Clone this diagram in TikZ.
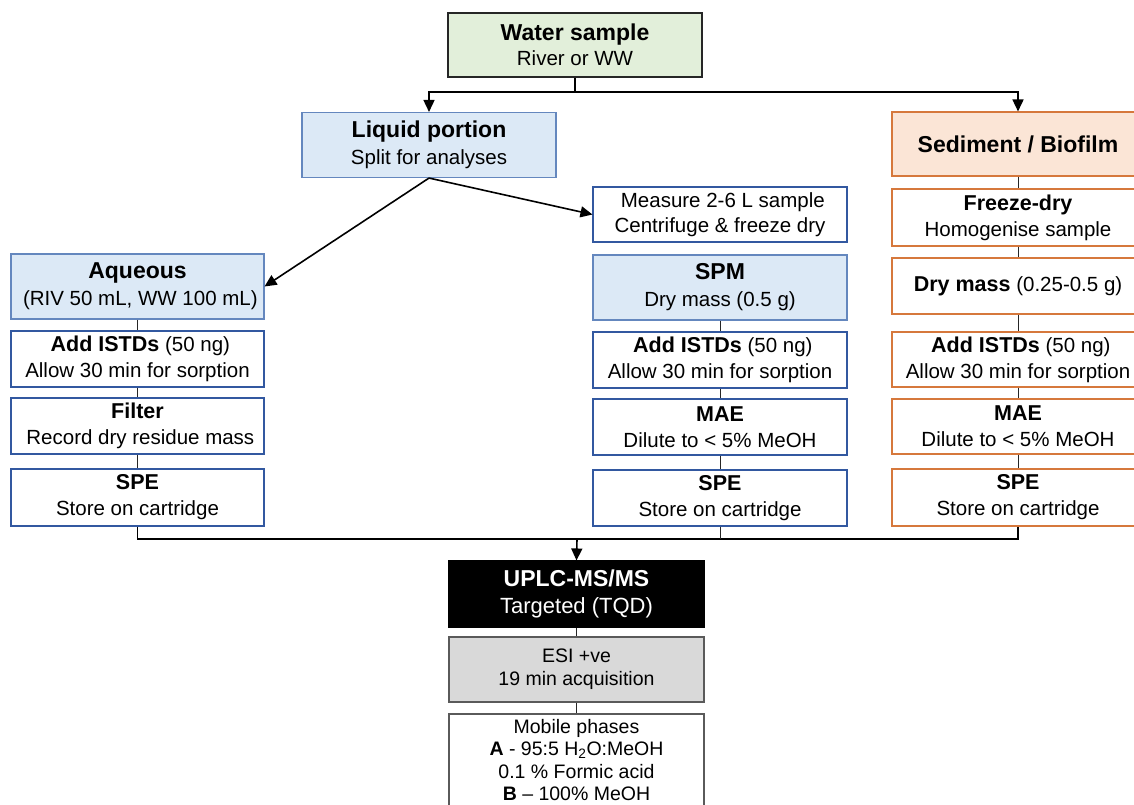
\documentclass[tikz,border=0pt]{standalone}
\usepackage{fontspec}
\setmainfont{Liberation Sans}
\usetikzlibrary{arrows.meta}
\definecolor{greenfill}{RGB}{226,239,218}
\definecolor{bluefill}{RGB}{220,233,246}
\definecolor{blueline}{RGB}{100,135,190}
\definecolor{bluedark}{RGB}{50,88,160}
\definecolor{orangefill}{RGB}{251,229,214}
\definecolor{orangeline}{RGB}{214,120,60}
\definecolor{grayfill}{RGB}{217,217,217}
\definecolor{grayline}{RGB}{90,90,90}
\newcommand{\hbf}[1]{{\fontsize{23}{27}\selectfont\bfseries #1}}
\newcommand{\sbf}[1]{{\fontsize{21.5}{26}\selectfont\bfseries #1}}
\begin{document}
\begin{tikzpicture}[x=1pt,y=-1pt,
  box/.style={draw, line width=1.1pt, inner sep=0pt, align=center, text=black},
  hdr/.style={box, draw=blueline, fill=bluefill, minimum width=254pt, minimum height=65pt, font=\fontsize{20.5}{27}\selectfont},
  stepb/.style={box, draw=bluedark, fill=white, minimum width=254pt, minimum height=56pt, font=\fontsize{20.5}{26}\selectfont},
  ostep/.style={box, draw=orangeline, fill=white, minimum width=252pt, minimum height=56pt, font=\fontsize{20.5}{26}\selectfont},
  conn/.style={draw=black, line width=1.6pt},
  arr/.style={conn, -{Triangle[length=12pt,width=11pt]}},
  stub/.style={draw=black!85, line width=0.8pt}]
\useasboundingbox (0,0) rectangle (1134,804);
\fill[white] (0,0) rectangle (1134,804);

% top
\node[box, draw=black!85, fill=greenfill, minimum width=254pt, minimum height=64pt, font=\fontsize{20.5}{25}\selectfont] (water) at (575,45) {\hbf{Water sample}\\River or WW};
\node[hdr] (liquid) at (429,145) {\hbf{Liquid portion}\\Split for analyses};
\node[box, draw=orangeline, fill=orangefill, minimum width=252pt, minimum height=64pt] (sed) at (1018,144) {\hbf{Sediment / Biofilm}};

% middle column
\node[stepb, minimum height=55pt, font=\fontsize{20.5}{25}\selectfont] (measure) at (720,214.5) {\ Measure 2-6 L sample\\Centrifuge \& freeze dry};
\node[hdr] (spm) at (720,287.5) {\hbf{SPM}\\Dry mass (0.5 g)};
\node[stepb] (add2) at (720,360) {\ \sbf{Add ISTDs} (50 ng)\\Allow 30 min for sorption};
\node[stepb] (mae2) at (720,427) {\sbf{MAE}\\Dilute to < 5\% MeOH};
\node[stepb] (spe2) at (720,498) {\sbf{SPE}\\Store on cartridge};

% left column
\node[hdr, minimum width=253pt] (aq) at (137.5,286.5) {\hbf{Aqueous}\\\ (RIV 50 mL, WW 100 mL)};
\node[stepb, minimum width=253pt] (add1) at (137.5,359) {\ \sbf{Add ISTDs} (50 ng)\\Allow 30 min for sorption};
\node[stepb, minimum width=253pt] (filt) at (137.5,426) {\sbf{Filter}\\\ Record dry residue mass};
\node[stepb, minimum width=253pt, minimum height=57pt] (spe1) at (137.5,497.5) {\sbf{SPE}\\Store on cartridge};

% right column
\node[ostep, minimum height=57pt] (freeze) at (1018,217.5) {\sbf{Freeze-dry}\\Homogenise sample};
\node[ostep] (dry) at (1018,286) {\sbf{Dry mass} (0.25-0.5 g)};
\node[ostep, minimum height=55pt] (add3) at (1018,359.5) {\ \sbf{Add ISTDs} (50 ng)\\Allow 30 min for sorption};
\node[ostep, minimum height=55pt] (mae3) at (1018,426.5) {\sbf{MAE}\\Dilute to < 5\% MeOH};
\node[ostep, minimum height=57pt] (spe3) at (1018,497.5) {\sbf{SPE}\\Store on cartridge};

% bottom
\node[box, draw=black, fill=black, text=white, minimum width=255pt, minimum height=66pt, font=\fontsize{22}{27}\selectfont] (uplc) at (576.5,594) {\hbf{UPLC-MS/MS}\\Targeted (TQD)};
\node[box, draw=grayline, fill=grayfill, minimum width=255pt, minimum height=65pt, font=\fontsize{19.5}{23}\selectfont] (esi) at (576.5,669.5) {ESI +ve\\19 min acquisition};
\node[box, draw=grayline, fill=white, minimum width=255pt, minimum height=92pt, font=\fontsize{19.5}{22.5}\selectfont] (mob) at (576.5,760) {Mobile phases\\\textbf{A} - 95:5 H\textsubscript{2}O:MeOH\\0.1 \% Formic acid\\\textbf{B} -- 100\% MeOH};

% connectors top
\coordinate (j1) at (575,92);
\draw[conn] (water.south) -- (j1);
\draw[arr] (j1) -| (liquid.north);
\draw[arr] (j1) -| (sed.north);
\draw[arr] (liquid.south) -- (aq.east);
\draw[arr] (liquid.south) -- (measure.west);

% stubs
\draw[stub] (aq.south) -- (add1.north);
\draw[stub] (add1.south) -- (filt.north);
\draw[stub] (filt.south) -- (spe1.north);
\draw[stub] (spm.south) -- (add2.north);
\draw[stub] (add2.south) -- (mae2.north);
\draw[stub] (mae2.south) -- (spe2.north);
\draw[stub] (sed.south) -- (freeze.north);
\draw[stub] (freeze.south) -- (dry.north);
\draw[stub] (dry.south) -- (add3.north);
\draw[stub] (add3.south) -- (mae3.north);
\draw[stub] (mae3.south) -- (spe3.north);
\draw[stub] (uplc.south) -- (esi.north);
\draw[stub] (esi.south) -- (mob.north);

% bottom merge
\coordinate (j2) at (577,539);
\draw[conn] (spe1.south) -- (spe1.south |- j2) -- (spe3.south |- j2) -- (spe3.south);
\draw[stub, line width=1pt] (spe2.south) -- (spe2.south |- j2);
\draw[arr] (j2) -- (uplc.north);
\end{tikzpicture}
\end{document}
